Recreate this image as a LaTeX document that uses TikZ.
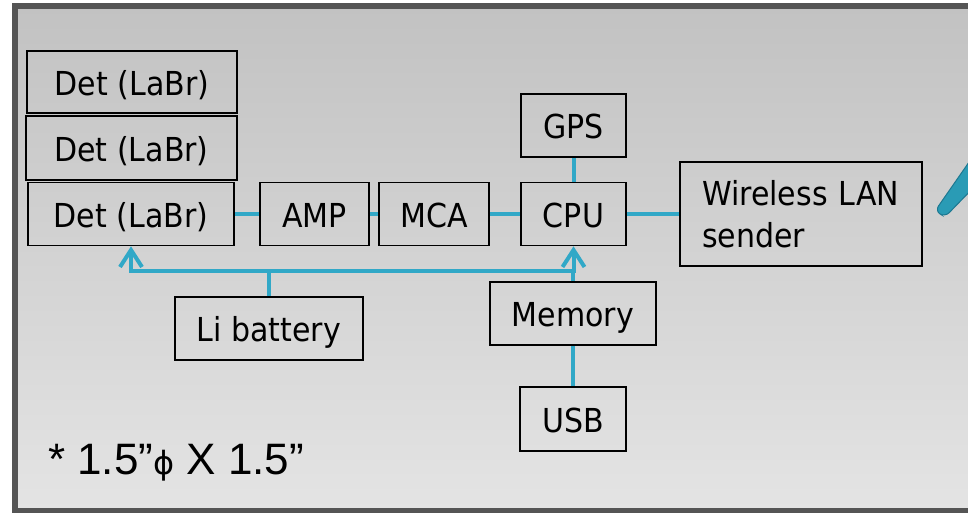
\documentclass[tikz,border=0pt]{standalone}
\usepackage{fontspec}
\setmainfont{DejaVu Sans}[FakeStretch=0.91]
\newfontfamily\arialfont{Liberation Sans}
\newfontfamily\phifont{DejaVu Sans}
\usetikzlibrary{arrows.meta}
\definecolor{buscol}{RGB}{49,168,199}
\definecolor{framecol}{RGB}{85,85,85}
\definecolor{bgtop}{RGB}{194,194,194}
\definecolor{bgbot}{RGB}{228,228,228}
\definecolor{leaf}{RGB}{42,155,181}
\definecolor{leafedge}{RGB}{29,120,145}
\begin{document}
\begin{tikzpicture}[x=1pt,y=-1pt,
  blk/.style={draw=black,line width=1.6pt,inner sep=0pt,font=\fontsize{33}{36}\selectfont,
    text height=26pt,text depth=0pt},
  link/.style={draw=buscol,line width=4pt},
  bar/.tip={Straight Barb[length=17pt,width=22pt]}]
\useasboundingbox (0,0) rectangle (968,512);
% panel
\shade[top color=bgtop,bottom color=bgbot] (15,6) rectangle (990,511);
\draw[framecol,line width=6pt] (990,6) -- (15,6) -- (15,511) -- (990,511);
% leaf shape at right edge
\filldraw[fill=leaf,draw=leafedge,line width=1pt,rounded corners=6pt]
  (935,211) -- (976,152) -- (976,185) -- (945,217) -- cycle;
% blocks
\node[blk,minimum width=210pt,minimum height=62pt] (det1) at (132,82) {Det (LaBr)};
\node[blk,minimum width=211pt,minimum height=64pt] (det2) at (131.5,148) {Det (LaBr)};
\node[blk,minimum width=206pt,minimum height=63pt] (det3) at (131,214) {Det (LaBr)};
\node[blk,minimum width=109pt,minimum height=63pt] (amp) at (314.5,214) {AMP};
\node[blk,minimum width=110pt,minimum height=63pt] (mca) at (434,214) {MCA};
\node[blk,minimum width=105pt,minimum height=63pt] (cpu) at (573.5,214) {CPU};
\node[blk,minimum width=105pt,minimum height=63pt] (gps) at (573.5,125.5) {GPS};
\node[blk,text height=,text depth=,minimum width=242pt,minimum height=104pt,text width=198pt,align=left,
  font=\fontsize{33}{42.6}\selectfont] (wl) at (801,214) {Wireless LAN\\sender};
\node[blk,minimum width=188pt,minimum height=63pt] (li) at (269,328.5) {Li battery};
\node[blk,minimum width=166pt,minimum height=63pt] (mem) at (573,313.5) {Memory};
\node[blk,minimum width=106pt,minimum height=64pt] (usb) at (573,419) {USB};
% connectors
\draw[link] (det3) -- (amp);
\draw[link] (amp) -- (mca);
\draw[link] (mca) -- (cpu);
\draw[link] (cpu) -- (wl.west |- cpu);
\draw[link] (gps) -- (cpu);
\draw[link] (mem) -- (usb);
\coordinate (bus) at (0,271);
\draw[link,bar-bar] (det3.south) -- (det3.south |- bus) -- (cpu.south |- bus) -- (cpu.south);
\draw[link] (li.north) -- (li.north |- bus);
\draw[link] (mem.north) -- (mem.north |- bus);
% note
\node[anchor=base west,inner sep=0pt,font=\arialfont\fontsize{44}{44}\selectfont] (note) at (48,474)
  {* 1.5”{\phifont\fontsize{32}{32}\selectfont ϕ} X 1.5”};
\end{tikzpicture}
\end{document}
